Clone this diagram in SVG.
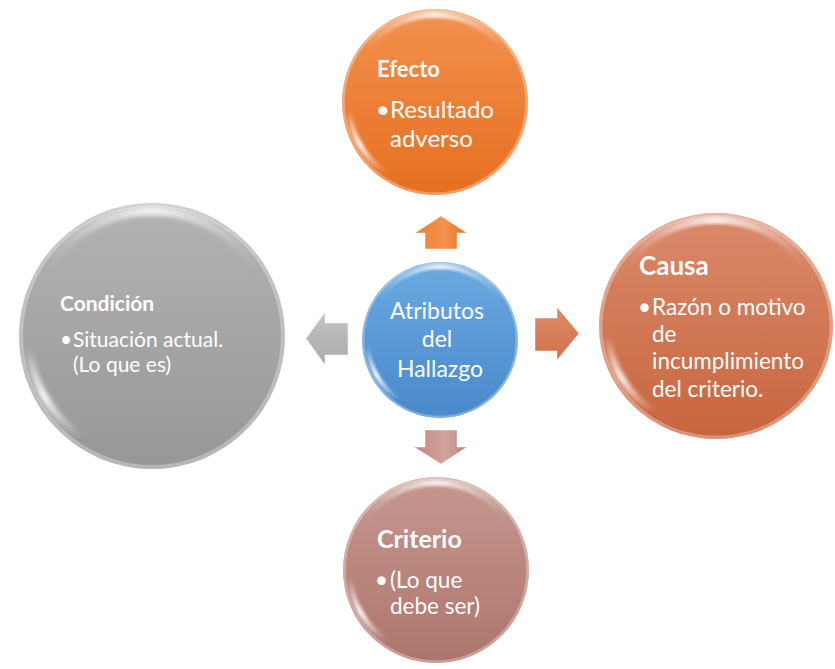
<svg xmlns="http://www.w3.org/2000/svg" xmlns:xlink="http://www.w3.org/1999/xlink" width="835" height="669" viewBox="0 0 835 669">
  <style>
    .t { font-family: "Lato", "Open Sans", "Liberation Sans", sans-serif; fill: #ffffff; }
    .h { font-weight: bold; }
  </style>
  <defs>
    <!-- body fills: light at the top, deeper at the bottom -->
    <linearGradient id="gOrange" x1="0" y1="0" x2="0" y2="1">
      <stop offset="0" stop-color="#F2914F"/>
      <stop offset="1" stop-color="#E66F1F"/>
    </linearGradient>
    <linearGradient id="gBlue" x1="0" y1="0" x2="0" y2="1">
      <stop offset="0" stop-color="#6AA9E0"/>
      <stop offset="1" stop-color="#4A89CB"/>
    </linearGradient>
    <linearGradient id="gGray" x1="0" y1="0" x2="0" y2="1">
      <stop offset="0" stop-color="#B3B3B3"/>
      <stop offset="1" stop-color="#979797"/>
    </linearGradient>
    <linearGradient id="gRust" x1="0" y1="0" x2="0" y2="1">
      <stop offset="0" stop-color="#DA8A6B"/>
      <stop offset="1" stop-color="#C8653F"/>
    </linearGradient>
    <linearGradient id="gMauve" x1="0" y1="0" x2="0" y2="1">
      <stop offset="0" stop-color="#C6978F"/>
      <stop offset="1" stop-color="#AD766D"/>
    </linearGradient>
    <!-- arrow fills -->
    <linearGradient id="aOrange" x1="0" y1="0" x2="1" y2="0">
      <stop offset="0" stop-color="#EE7E2E"/>
      <stop offset="0.55" stop-color="#F4934F"/>
      <stop offset="1" stop-color="#E8731F"/>
    </linearGradient>
    <linearGradient id="aGray" x1="0" y1="0" x2="0" y2="1">
      <stop offset="0" stop-color="#C4C4C4"/>
      <stop offset="1" stop-color="#A9A9A9"/>
    </linearGradient>
    <linearGradient id="aRust" x1="0" y1="0" x2="0" y2="1">
      <stop offset="0" stop-color="#E08B68"/>
      <stop offset="1" stop-color="#D1714C"/>
    </linearGradient>
    <linearGradient id="aMauve" x1="0" y1="0" x2="1" y2="0">
      <stop offset="0" stop-color="#C28880"/>
      <stop offset="0.6" stop-color="#D2A39C"/>
      <stop offset="1" stop-color="#BC8078"/>
    </linearGradient>
    <!-- glossy rim pieces -->
    <linearGradient id="topRim" x1="0" y1="0" x2="1" y2="0">
      <stop offset="0" stop-color="#fff" stop-opacity="0"/>
      <stop offset="0.5" stop-color="#fff" stop-opacity="0.85"/>
      <stop offset="1" stop-color="#fff" stop-opacity="0"/>
    </linearGradient>
    <linearGradient id="glint" x1="0" y1="0" x2="0" y2="1">
      <stop offset="0" stop-color="#fff" stop-opacity="0"/>
      <stop offset="0.55" stop-color="#fff" stop-opacity="0.9"/>
      <stop offset="1" stop-color="#fff" stop-opacity="0"/>
    </linearGradient>
    <filter id="soft" x="-20%" y="-20%" width="140%" height="140%">
      <feGaussianBlur stdDeviation="1.6"/>
    </filter>
    <!-- gloss drawn for a circle of radius 100 at the origin -->
    <g id="gloss">
      <circle r="98.5" fill="none" stroke="#fff" stroke-opacity="0.3" stroke-width="3"/>
      <path d="M -77 -54 A 94 94 0 0 1 77 -54" fill="none" stroke="url(#topRim)" stroke-width="7" filter="url(#soft)"/>
      <path d="M -92.6 8.1 A 93 93 0 0 0 -53.4 76.2" fill="none" stroke="url(#glint)" stroke-width="6" filter="url(#soft)"/>
    </g>
  </defs>

  <rect width="835" height="669" fill="#ffffff"/>

  <!-- connectors: block arrows from the centre outwards -->
  <g id="connectors" stroke="#ffffff" stroke-opacity="0.45" stroke-width="1">
    <polygon id="arrow-up" points="441,216 467,233 457,233 457,249 425,249 425,233 415,233" fill="url(#aOrange)"/>
    <polygon id="arrow-left" points="306,338.5 325,312 325,323 348,323 348,355 325,355 325,365" fill="url(#aGray)"/>
    <polygon id="arrow-right" points="579,333.5 557,307 557,318 535,318 535,351 557,351 557,360" fill="url(#aRust)"/>
    <polygon id="arrow-down" points="441,464 467,447 457,447 457,430 425,430 425,447 414,447" fill="url(#aMauve)"/>
  </g>

  <g id="node-efecto">
    <circle cx="435" cy="102" r="93" fill="url(#gOrange)"/>
    <use xlink:href="#gloss" transform="translate(435 102) scale(0.93)"/>
    <text class="t h" x="377" y="77" font-size="22">Efecto</text>
    <text class="t" font-size="24">
      <tspan x="376" y="118">•</tspan><tspan x="390" y="118">Resultado</tspan>
      <tspan x="390" y="147">adverso</tspan>
    </text>
  </g>

  <g id="node-atributos">
    <circle cx="440" cy="340" r="78" fill="url(#gBlue)"/>
    <use xlink:href="#gloss" transform="translate(440 340) scale(0.78)"/>
    <text class="t" font-size="23" text-anchor="middle">
      <tspan x="440" y="319">Atributos</tspan>
      <tspan x="440" y="347">del</tspan>
      <tspan x="440" y="377">Hallazgo</tspan>
    </text>
  </g>

  <g id="node-condicion">
    <circle cx="152" cy="336" r="133" fill="url(#gGray)"/>
    <use xlink:href="#gloss" transform="translate(152 336) scale(1.33)"/>
    <text class="t h" x="60" y="311" font-size="21">Condición</text>
    <text class="t" font-size="21">
      <tspan x="60" y="347">•</tspan><tspan x="73" y="347">Situación actual.</tspan>
      <tspan x="73" y="372">(Lo que es)</tspan>
    </text>
  </g>

  <g id="node-causa">
    <ellipse cx="716" cy="326" rx="117" ry="113" fill="url(#gRust)"/>
    <use xlink:href="#gloss" transform="translate(716 326) scale(1.17 1.13)"/>
    <text class="t h" x="639" y="275" font-size="26">Causa</text>
    <text class="t" font-size="22.5">
      <tspan x="638" y="315">•</tspan><tspan x="652" y="315">Razón o motivo</tspan>
      <tspan x="652" y="342">de</tspan>
      <tspan x="652" y="369">incumplimiento</tspan>
      <tspan x="652" y="397">del criterio.</tspan>
    </text>
  </g>

  <g id="node-criterio">
    <circle cx="436" cy="570" r="93" fill="url(#gMauve)"/>
    <use xlink:href="#gloss" transform="translate(436 570) scale(0.93)"/>
    <text class="t h" x="377" y="548" font-size="25">Criterio</text>
    <text class="t" font-size="22.5">
      <tspan x="375" y="588">•</tspan><tspan x="390" y="588">(Lo que</tspan>
      <tspan x="390" y="614">debe ser)</tspan>
    </text>
  </g>
</svg>
